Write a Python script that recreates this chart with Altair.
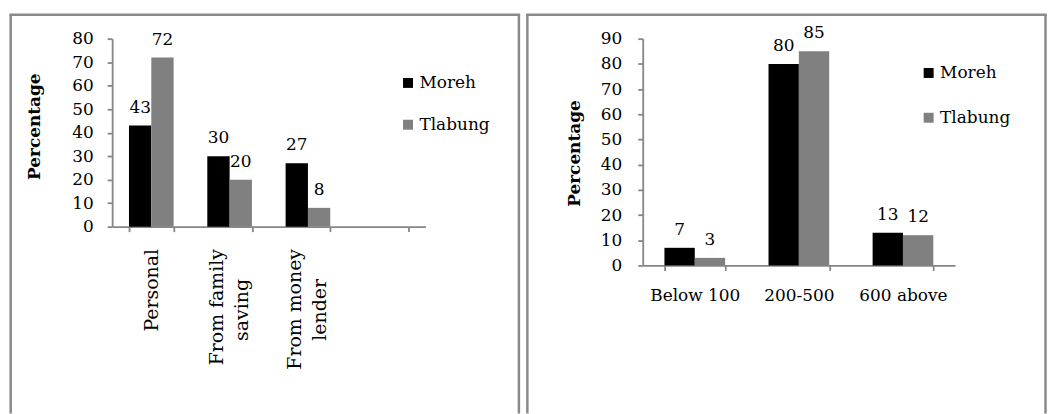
import altair as alt
import pandas as pd

# Series shared by both panels
series = ["Moreh", "Tlabung"]
series_colors = ["#000000", "#808080"]

# Panel 1: source of money (the fourth slot is an empty category)
source_cats = ["Personal", "From family|saving", "From money|lender", ""]
source_moreh = [43, 30, 27]
source_tlabung = [72, 20, 8]
source_ticks = [0, 10, 20, 30, 40, 50, 60, 70, 80]

# Panel 2: amount ranges
amount_cats = ["Below 100", "200-500", "600 above"]
amount_moreh = [7, 80, 13]
amount_tlabung = [3, 85, 12]
amount_ticks = [0, 10, 20, 30, 40, 50, 60, 70, 80, 90]

FONT = "DejaVu Serif"
FONT_SIZE = 17
AXIS_GREY = "#868686"
FRAME_GREY = "#8a8a8a"
# Vega trims label whitespace, so a zero-width space keeps the padding in place
PAD = "\u00a0" * 5 + "\u200b"


def long_table(cats, moreh, tlabung):
    n = len(moreh)
    return pd.DataFrame({
        "cat": list(cats[:n]) * 2,
        "group": ["Moreh"] * n + ["Tlabung"] * n,
        "pct": list(moreh) + list(tlabung),
    })


def frame(left, right, top, bottom, width=2.5):
    base = alt.Chart(pd.DataFrame({"k": [0]}))
    kw = dict(color=FRAME_GREY, strokeWidth=width)
    return alt.layer(
        base.mark_rule(**kw).encode(x=alt.value(left), y=alt.value(top), y2=alt.value(bottom)),
        base.mark_rule(**kw).encode(x=alt.value(right), y=alt.value(top), y2=alt.value(bottom)),
        base.mark_rule(**kw).encode(x=alt.value(left - width / 2), x2=alt.value(right + width / 2), y=alt.value(top)),
    )


def panel(df, cats, ticks, w, h, pad_inner, x_axis, y_label_pad, title_xy, legend_xy, legend_gap, frame_box):
    x = alt.X("cat:N", scale=alt.Scale(domain=cats, paddingInner=pad_inner, paddingOuter=pad_inner / 2),
              sort=cats, axis=x_axis)
    xo = alt.XOffset("group:N", scale=alt.Scale(domain=series, paddingInner=0, paddingOuter=0))
    y = alt.Y("pct:Q", scale=alt.Scale(domain=[ticks[0], ticks[-1]], nice=False, zero=True),
              axis=alt.Axis(values=ticks, title="Percentage", grid=False,
                            domainColor=AXIS_GREY, domainWidth=1.8, tickColor=AXIS_GREY,
                            tickWidth=1.8, tickSize=5, labelPadding=y_label_pad,
                            titleAngle=270, titleAlign="center", titleBaseline="middle",
                            titleX=title_xy[0], titleY=title_xy[1],
                            titleFont=FONT, titleFontSize=FONT_SIZE, titleFontWeight="bold",
                            titleColor="#000000"))
    color = alt.Color("group:N", scale=alt.Scale(domain=series, range=series_colors),
                      legend=alt.Legend(title=None, orient="none", legendX=legend_xy[0],
                                        legendY=legend_xy[1], symbolType="square",
                                        symbolSize=100, symbolStrokeWidth=0,
                                        symbolOpacity=1, labelFont=FONT, labelFontSize=FONT_SIZE,
                                        labelColor="#000000", labelOffset=3,
                                        rowPadding=legend_gap, padding=0))
    base = alt.Chart(df)
    bars = base.mark_bar(opacity=1).encode(x=x, xOffset=xo, y=y, color=color)
    labels = base.mark_text(baseline="alphabetic", dy=-13, font=FONT, fontSize=FONT_SIZE,
                            color="#000000").encode(x=x, xOffset=xo, y=y, text="pct:Q")
    return alt.layer(frame(*frame_box), bars, labels).properties(width=w, height=h)


# Two-line labels use a line-bottom baseline so each block sits centred on its tick;
# the shorter second line is padded so it is centred under the first one
two_line = "datum.value == 'From family|saving' || datum.value == 'From money|lender'"
left_axis = alt.Axis(title=None, labelAngle=270, labelAlign="right", labelFontSize=19,
                     labelBaseline={"condition": {"test": two_line, "value": "line-bottom"},
                                    "value": "middle"},
                     labelExpr=(
                         "datum.value == 'From family|saving' ? ['From family', 'saving" + PAD + "'] : "
                         "datum.value == 'From money|lender' ? ['From money', 'lender" + PAD + "'] : datum.value"
                     ),
                     labelLineHeight=25, labelPadding=17, tickBand="extent", tickSize=5,
                     tickColor=AXIS_GREY, tickWidth=1.8, domainColor=AXIS_GREY, domainWidth=1.8)

right_axis = alt.Axis(title=None, labelAngle=0, labelAlign="center", labelBaseline="top",
                      labelPadding=17, tickBand="extent", tickSize=5,
                      tickColor=AXIS_GREY, tickWidth=1.8, domainColor=AXIS_GREY, domainWidth=1.8)

left = panel(long_table(source_cats, source_moreh, source_tlabung), source_cats, source_ticks,
             315, 189, 0.43, left_axis, 14, (-78, 88), (289, 36), 24, (-102, 409, -24, 377))

right = panel(long_table(amount_cats, amount_moreh, amount_tlabung), amount_cats, amount_ticks,
              314, 228, 0.417, right_axis, 16, (-69, 115), (279, 26), 27, (-116, 405, -24, 377))

chart = alt.hconcat(left, right, spacing=2.5).resolve_scale(
    color="independent", xOffset="independent"
).resolve_legend(color="independent").properties(
    padding={"left": 7.75, "top": 11.75, "right": 0, "bottom": 0}
).configure_view(stroke=None).configure_axis(
    labelFont=FONT, labelFontSize=FONT_SIZE, labelColor="#000000"
)

chart.save("out.html", embed_options={"renderer": "svg", "actions": False})
